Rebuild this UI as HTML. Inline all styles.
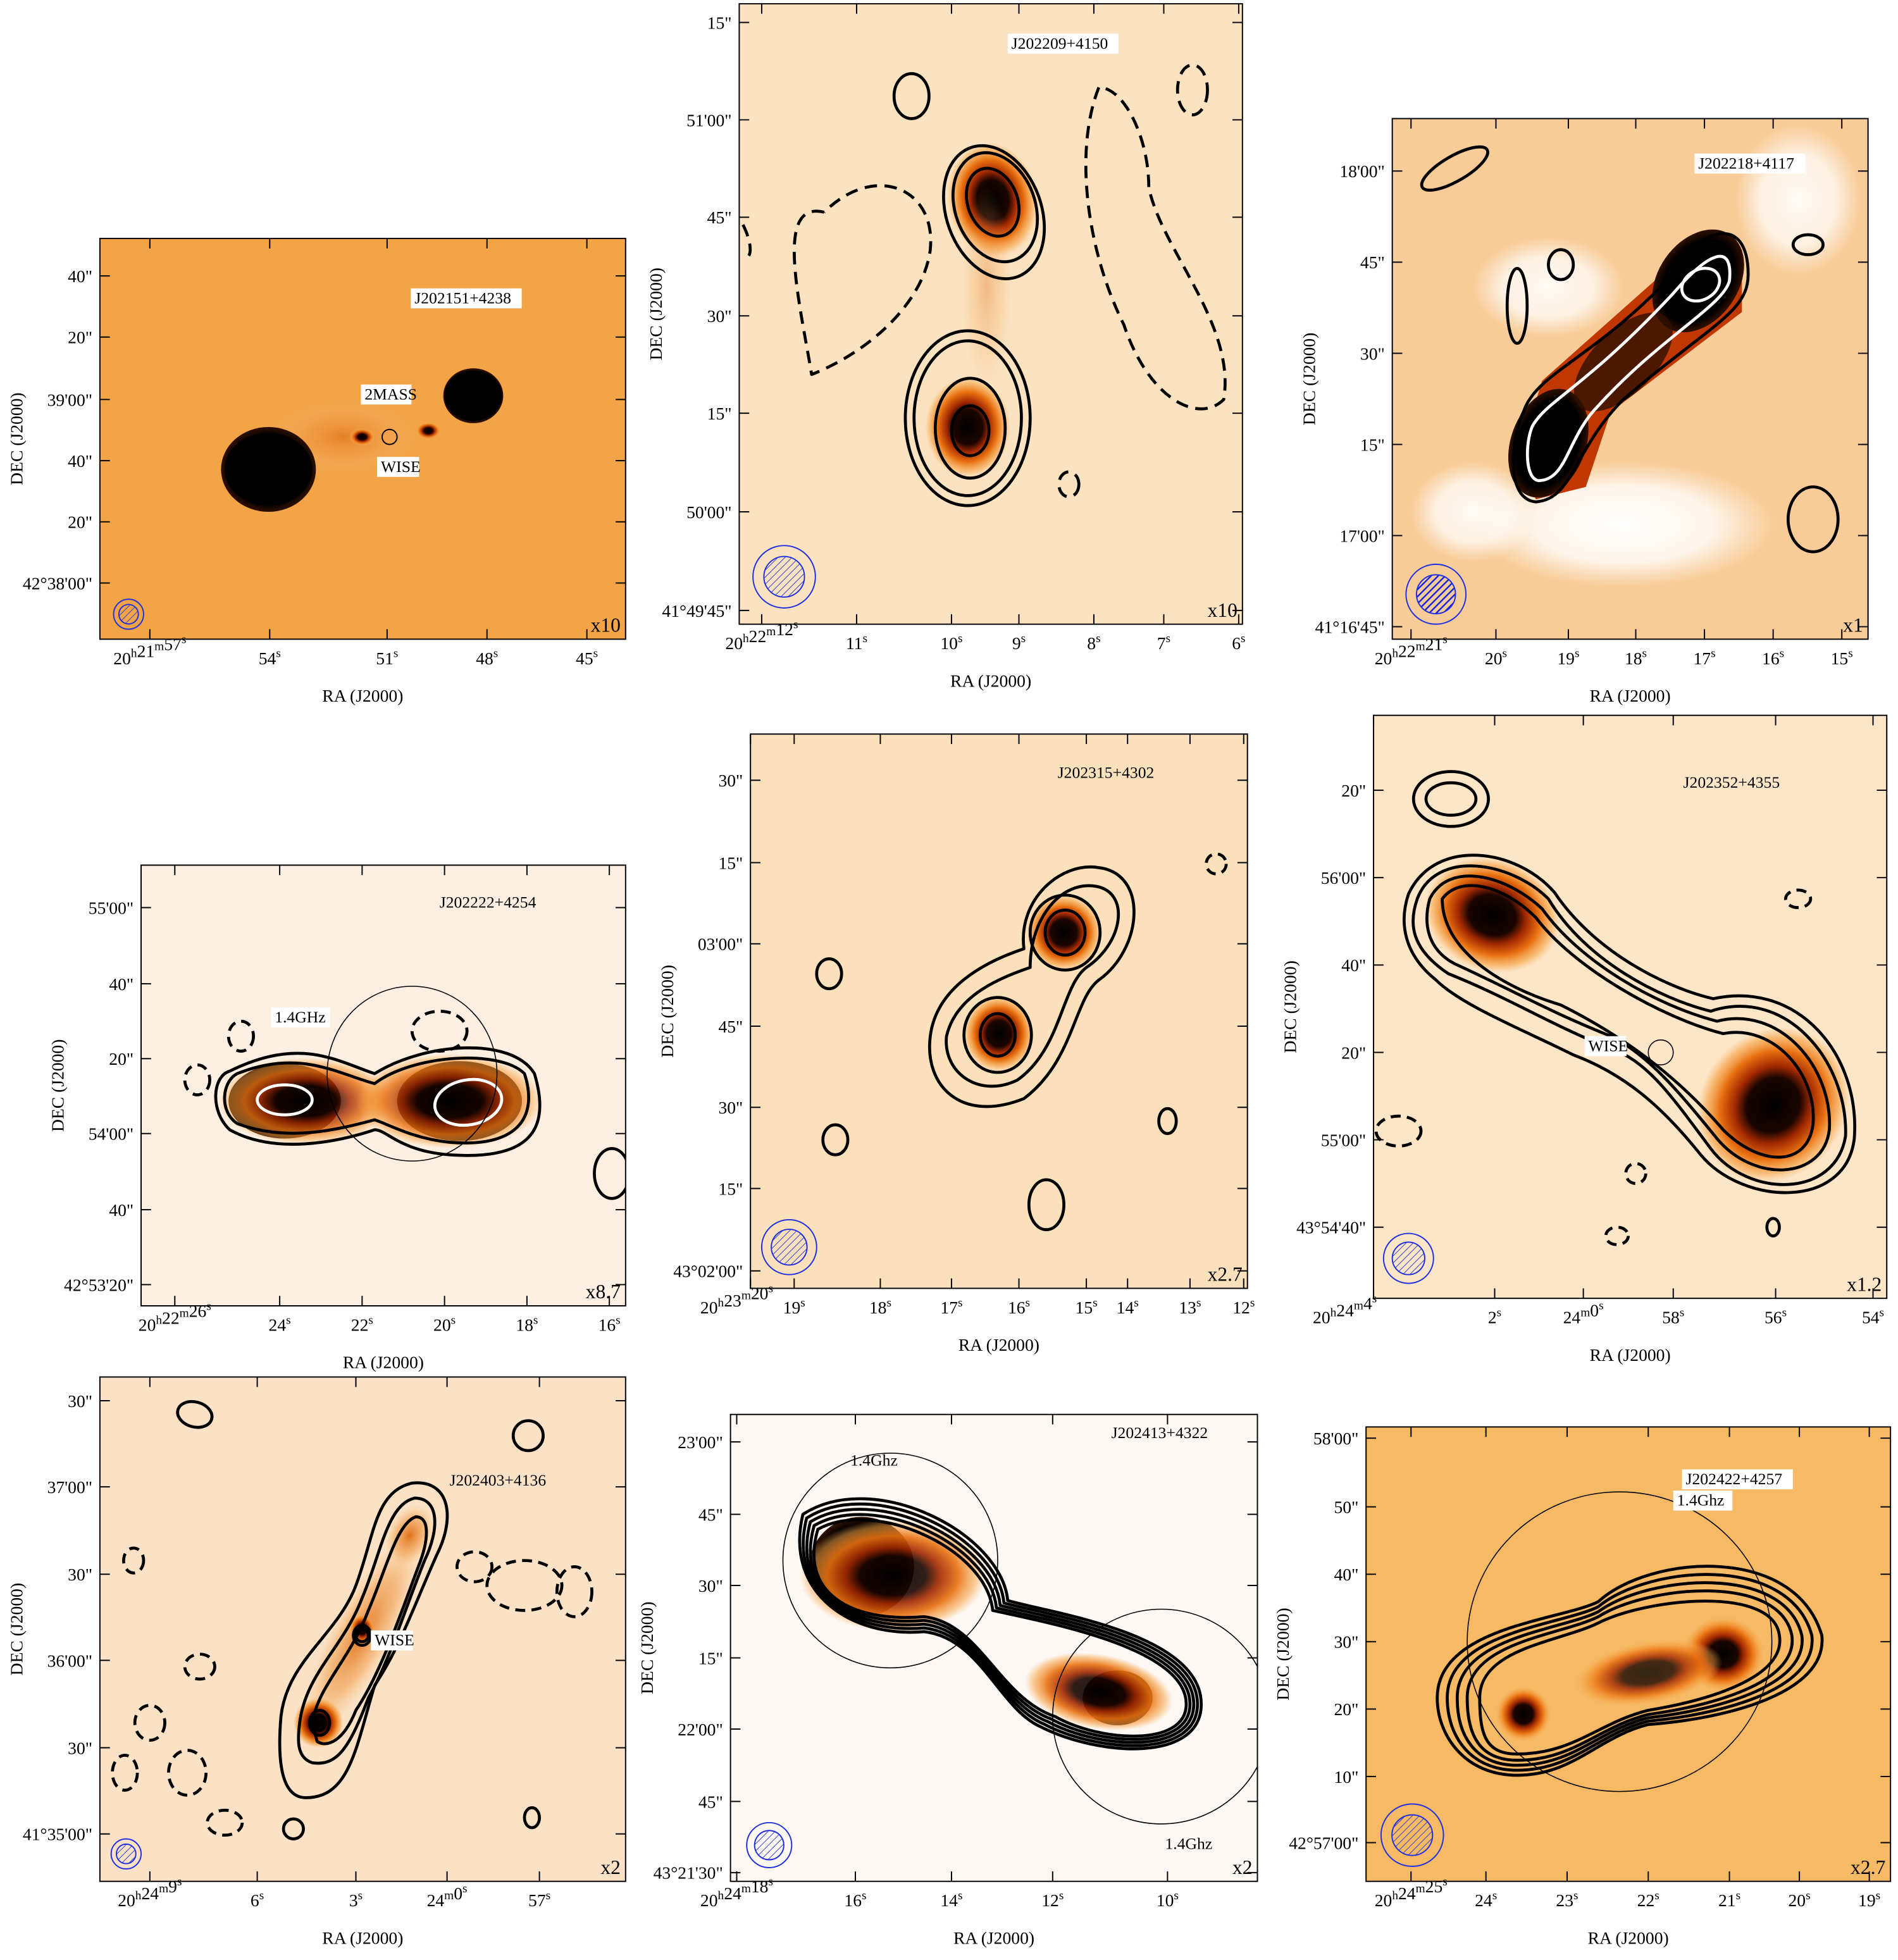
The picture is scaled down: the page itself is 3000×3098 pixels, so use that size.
<!DOCTYPE html>
<html><head><meta charset="utf-8">
<style>
html,body{margin:0;padding:0;background:#fff;}
svg{display:block;}
text{font-family:"Liberation Serif",serif;fill:#000;}
</style></head>
<body>
<svg id="fig" xmlns="http://www.w3.org/2000/svg" width="3000" height="3098" viewBox="0 0 1520 1570" preserveAspectRatio="none">
<defs>
<radialGradient id="src">
<stop offset="0" stop-color="#000"/>
<stop offset="0.35" stop-color="#1a0500"/>
<stop offset="0.5" stop-color="#a02800"/>
<stop offset="0.7" stop-color="#e87010"/>
<stop offset="0.88" stop-color="#f5a040" stop-opacity="0.6"/>
<stop offset="1" stop-color="#f8b060" stop-opacity="0"/>
</radialGradient>
<radialGradient id="dsrc">
<stop offset="0" stop-color="#000"/>
<stop offset="0.8" stop-color="#000"/>
<stop offset="1" stop-color="#301000"/>
</radialGradient>
<radialGradient id="soft">
<stop offset="0" stop-color="#e07018"/>
<stop offset="0.6" stop-color="#f0a050" stop-opacity="0.6"/>
<stop offset="1" stop-color="#f8c080" stop-opacity="0"/>
</radialGradient>
<radialGradient id="wht">
<stop offset="0" stop-color="#fff"/>
<stop offset="0.6" stop-color="#fff" stop-opacity="0.8"/>
<stop offset="1" stop-color="#fff" stop-opacity="0"/>
</radialGradient>
<pattern id="hatch" width="4" height="4" patternUnits="userSpaceOnUse" patternTransform="rotate(45)">
<line x1="0" y1="0" x2="0" y2="4" stroke="#3040d0" stroke-width="1"/>
</pattern>
<pattern id="hatchd" width="4" height="4" patternUnits="userSpaceOnUse" patternTransform="rotate(45)">
<line x1="0" y1="0" x2="0" y2="4" stroke="#1020e0" stroke-width="2.4"/>
</pattern>
</defs>
</svg>
<script>
const NS="http://www.w3.org/2000/svg";
const svg=document.getElementById('fig');
function mk(tag,attrs,parent){const e=document.createElementNS(NS,tag);for(const k in attrs)e.setAttribute(k,attrs[k]);(parent||svg).appendChild(e);return e;}
function supText(g,str,x,y,size,anchor){
  const t=mk('text',{x:x,y:y,'font-size':size,'text-anchor':anchor||'middle'},g);
  let buf='';
  for(const ch of str){
    if('hms'.includes(ch)){ if(buf){const s=mk('tspan',{},t);s.textContent=buf;buf='';}
      const s=mk('tspan',{'font-size':size*0.7,dy:-size*0.4},t);s.textContent=ch;
      const r=mk('tspan',{dy:size*0.4,'font-size':size},t);r.textContent='';
    } else buf+=ch;
  }
  if(buf){const s=mk('tspan',{},t);s.textContent=buf;}
  return t;
}

const panelNames=['J202151+4238','J202209+4150','J202218+4117','J202222+4254','J202315+4302','J202352+4355','J202403+4136','J202413+4322','J202422+4257'];
const panelBoxes=[[80,191,421,321],[592,3,403,497],[1115,95,381,417],[113,693,388,353],[601,588,398,444],[1100,573,411,467],[80,1103,421,404],[585,1133,422,374],[1094,1143,420,364]];
const panelBg=['#f2a446','#fbe2c0','#f8cc98','#fdf0e2','#fbe0bc','#fde6c8','#fbe2c6','#fdf8f4','#f6b964'];
const xTickLabels=[
 ['20h21m57s','54s','51s','48s','45s'],
 ['20h22m12s','11s','10s','9s','8s','7s','6s'],
 ['20h22m21s','20s','19s','18s','17s','16s','15s'],
 ['20h22m26s','24s','22s','20s','18s','16s'],
 ['20h23m20s','19s','18s','17s','16s','15s','14s','13s','12s'],
 ['20h24m4s','2s','24m0s','58s','56s','54s'],
 ['20h24m9s','6s','3s','24m0s','57s'],
 ['20h24m18s','16s','14s','12s','10s'],
 ['20h24m25s','24s','23s','22s','21s','20s','19s']];
const xTickPos=[[120,216,310,390,470],[610,686,762,816,876,932,992],[1130,1198,1256,1310,1365,1420,1475],[140,224,290,356,422,488],[590,636,705,762,816,870,903,953,996],[1077,1197,1268,1340,1422,1500],[120,206,285,358,432],[590,685,762,843,935],[1130,1190,1255,1320,1385,1441,1497]];
const yTickLabels=[
 ['40"','20"','39\'00"','40"','20"','42°38\'00"'],
 ['15"','51\'00"','45"','30"','15"','50\'00"','41°49\'45"'],
 ['18\'00"','45"','30"','15"','17\'00"','41°16\'45"'],
 ['55\'00"','40"','20"','54\'00"','40"','42°53\'20"'],
 ['30"','15"','03\'00"','45"','30"','15"','43°02\'00"'],
 ['20"','56\'00"','40"','20"','55\'00"','43°54\'40"'],
 ['30"','37\'00"','30"','36\'00"','30"','41°35\'00"'],
 ['23\'00"','45"','30"','15"','22\'00"','45"','43°21\'30"'],
 ['58\'00"','50"','40"','30"','20"','10"','42°57\'00"']];
const yTickPos=[[221,270,320,369,418,467],[18,96,174,253,331,410,489],[137,210,283,356,429,502],[727,788,848,908,969,1029],[625,691,756,822,887,952,1018],[633,703,773,843,913,983],[1122,1191,1261,1330,1400,1469],[1155,1213,1270,1328,1385,1443,1500],[1152,1207,1261,1315,1369,1423,1476]];
const scaleLabels=['x10','x10','x1','x8.7','x2.7','x1.2','x2','x2','x2.7'];

const layers=[];
panelBoxes.forEach((b,i)=>{
  const [x,y,w,h]=b;
  const g=mk('g',{});
  
  
  const clip=mk('clipPath',{id:'c'+i},svg.querySelector('defs'));
  mk('rect',{x:x,y:y,width:w,height:h},clip);
  mk('rect',{x:x,y:y,width:w,height:h,fill:panelBg[i]},g);
  const img=mk('g',{'clip-path':'url(#c'+i+')'},g);
  layers.push(img);
  const frame=mk('rect',{x:x,y:y,width:w,height:h,fill:'none',stroke:'#000','stroke-width':1},g);
  
  
  xTickLabels[i].forEach((lab,j)=>{
    const tx=xTickPos[i][j];
    const tk=Math.min(Math.max(tx,x),x+w);
    mk('line',{x1:tk,y1:y+h,x2:tk,y2:y+h-8,stroke:'#000','stroke-width':1},g);
    mk('line',{x1:tk,y1:y,x2:tk,y2:y+8,stroke:'#000','stroke-width':1},g);
    const t=supText(g,lab,tx,y+h+20,14,'middle');
    
    
  });
  yTickLabels[i].forEach((lab,j)=>{
    const ty=yTickPos[i][j];
    mk('line',{x1:x,y1:ty,x2:x+8,y2:ty,stroke:'#000','stroke-width':1},g);
    mk('line',{x1:x+w,y1:ty,x2:x+w-8,y2:ty,stroke:'#000','stroke-width':1},g);
    const t=mk('text',{x:x-6,y:ty+5,'font-size':14,'text-anchor':'end'},g);
    t.textContent=lab;
    
    
  });
  const xt=mk('text',{x:x+w/2,y:y+h+50,'font-size':14,'text-anchor':'middle'},g);
  xt.textContent='RA (J2000)';
  
  
  const cy=y+h/2;
  const yt=mk('text',{x:x-62,y:cy,'font-size':14,'text-anchor':'middle',transform:'rotate(-90 '+(x-62)+' '+cy+')'},g);
  yt.textContent='DEC (J2000)';
  
  
  layers[i].frameG=g;
});

function blob(i,cx,cy,rx,ry,rot,fill,op){return mk('ellipse',{cx:cx,cy:cy,rx:rx,ry:ry,transform:'rotate('+(rot||0)+' '+cx+' '+cy+')',fill:fill||'url(#src)',opacity:op==null?1:op},layers[i]);}
function cont(i,cx,cy,rx,ry,rot,opts){opts=opts||{};return mk('ellipse',{cx:cx,cy:cy,rx:rx,ry:ry,transform:'rotate('+(rot||0)+' '+cx+' '+cy+')',fill:'none',stroke:opts.c||'#000','stroke-width':opts.w||2.4,'stroke-dasharray':opts.d||'none'},layers[i]);}
function path(i,d,opts){opts=opts||{};return mk('path',{d:d,fill:'none',stroke:opts.c||'#000','stroke-width':opts.w||2.4,'stroke-dasharray':opts.d||'none','stroke-linejoin':'round'},layers[i]);}
function label(i,txt,x,y,box){const g=layers[i].frameG;
  if(box!==false){const wdt=txt.length*6.9+6;mk('rect',{x:x-3,y:y-12,width:wdt,height:16,fill:'#fff'},g);}
  const t=mk('text',{x:x,y:y,'font-size':13},g);t.textContent=txt;
  
  
  return t;}
function beam(i,cx,cy,r,dense){cont(i,cx,cy,r,r,0,{c:'#2030e0',w:1});mk('circle',{cx:cx,cy:cy,r:r*0.65,fill:dense?'url(#hatchd)':'url(#hatch)',stroke:'#2030e0','stroke-width':1},layers[i]);}
function scaleTxt(i){const [x,y,w,h]=panelBoxes[i];const t=mk('text',{x:x+w-4,y:y+h-6,'font-size':16,'text-anchor':'end','font-family':'Liberation Sans'},layers[i].frameG);t.textContent=scaleLabels[i];
  
  }

// Panel 1
blob(0,275,350,60,30,0,'url(#soft)',0.7);
blob(0,215,376,38,34,0,'url(#dsrc)');
cont(0,215,376,32,26,0);cont(0,215,376,34,28,0);
blob(0,379,317,24,22,0,'url(#dsrc)');
cont(0,379,317,20,17,0);cont(0,379,317,22,19,0);
blob(0,343,345,10,7,0);blob(0,290,350,10,7,0);
cont(0,312,350,6,6,0,{w:1});
label(0,'J202151+4238',332,243);label(0,'2MASS',292,320);label(0,'WISE',305,378);
beam(0,103,492,12);

// Panel 2
blob(1,795,160,36,46,-10);blob(1,775,342,34,40,0);
blob(1,790,230,20,80,0,'url(#soft)',0.35);
cont(1,796,170,38,55,-20);cont(1,797,166,32,45,-20);cont(1,795,162,20,28,-20);
cont(1,775,335,50,70,0);cont(1,775,335,43,62,0);cont(1,777,343,28,40,0);cont(1,777,345,15,20,0);
path(1,'M660 170 C620 160 640 240 650 300 C700 280 740 240 745 200 C750 150 700 130 660 170',{d:'10 6'});
path(1,'M880 70 C860 120 870 200 900 260 C920 320 960 340 980 320 C990 260 930 200 920 150 C920 110 900 70 880 70',{d:'10 6'});
cont(1,730,77,14,18,0);cont(1,955,72,12,20,0,{d:'10 6'});cont(1,856,388,8,10,0,{d:'10 6'});
path(1,'M595 180 C605 200 600 210 595 205',{d:'10 6'});
label(1,'J202209+4150',810,39);beam(1,628,462,25);
// Panel 3
blob(2,1240,230,60,40,0,'url(#wht)',0.9);blob(2,1440,160,50,60,0,'url(#wht)',0.9);
blob(2,1300,420,120,50,0,'url(#wht)',1);blob(2,1180,410,50,40,0,'url(#wht)',0.9);
mk('path',{d:'M1235 305 L1370 185 L1395 200 L1395 250 L1290 330 L1270 390 L1230 400 L1215 370 Z',fill:'#c03800'},layers[2]);
blob(2,1240,355,30,45,20,'url(#dsrc)');blob(2,1360,225,32,45,35,'url(#dsrc)');
blob(2,1300,290,25,50,45,'#301000',0.8);
path(2,'M1220 330 C1230 300 1270 290 1330 230 C1360 180 1400 170 1400 220 C1400 250 1370 260 1300 320 C1260 360 1260 400 1230 402 C1205 400 1210 350 1220 330 Z');
path(2,'M1228 340 C1240 320 1270 310 1340 235 C1370 200 1388 195 1385 225 C1380 245 1330 270 1280 325 C1255 350 1255 385 1232 385 C1220 383 1222 350 1228 340 Z',{c:'#fff'});
cont(2,1362,228,16,12,-30,{c:'#fff'});
cont(2,1165,135,30,10,-30);cont(2,1448,196,12,8,0);cont(2,1250,212,10,12,0);cont(2,1452,416,20,26,0);cont(2,1215,245,8,30,0);
label(2,'J202218+4117',1360,135);beam(2,1150,476,24,true);
// Panel 4
blob(3,228,882,45,30,0,'url(#dsrc)');blob(3,368,882,50,32,0,'url(#dsrc)');
blob(3,245,882,70,35,0,'url(#src)',0.8);blob(3,360,882,75,38,0,'url(#src)',0.8);
path(3,'M190 860 C240 840 270 860 300 868 C330 845 400 840 420 860 C430 890 420 920 360 915 C330 912 310 900 300 897 C270 905 230 915 190 900 C175 890 178 866 190 860 Z');
path(3,'M184 858 C240 830 270 850 300 860 C340 835 410 830 428 860 C440 900 430 930 360 925 C320 922 310 905 300 905 C270 915 220 925 184 905 C168 890 170 862 184 858 Z');
cont(3,228,881,22,12,0,{c:'#fff'});cont(3,375,883,27,18,-10,{c:'#fff'});
cont(3,330,860,68,70,0,{w:0.8});
cont(3,352,826,22,16,0,{d:'8 5'});cont(3,193,830,10,12,0,{d:'8 5'});cont(3,158,865,10,12,0,{d:'8 5'});cont(3,490,940,14,20,0);
label(3,'J202222+4254',352,727,false);label(3,'1.4GHz',220,819);scaleTxt(3);
// Panel 5
blob(4,852,747,30,30,0);blob(4,800,828,28,30,0);
path(4,'M745 830 C750 790 790 770 820 760 C815 720 850 690 880 695 C920 700 915 760 880 785 C860 800 860 850 820 880 C770 900 740 870 745 830 Z');
path(4,'M758 830 C765 800 795 785 825 775 C825 735 850 705 878 710 C905 715 900 755 870 775 C850 790 850 840 815 865 C785 880 755 860 758 830 Z');
cont(4,853,747,28,30,0);cont(4,799,829,27,30,0);cont(4,853,747,16,18,0);cont(4,799,829,14,17,0);
cont(4,669,913,10,12,0);cont(4,838,965,14,20,0);cont(4,935,898,7,10,0);cont(4,664,780,10,12,0);cont(4,974,692,8,8,0,{d:'8 5'});
label(4,'J202315+4302',847,623,false);beam(4,632,999,22);scaleTxt(4);
// Panel 6
blob(5,1195,733,55,45,20);blob(5,1420,885,58,65,40);
path(5,'M1135 720 C1150 680 1210 690 1240 720 C1270 770 1330 800 1370 810 C1430 790 1480 850 1478 910 C1470 960 1400 960 1370 920 C1340 880 1320 850 1290 840 C1240 820 1210 800 1160 780 C1130 760 1128 740 1135 720 Z');
path(5,'M1145 720 C1160 690 1205 700 1235 728 C1265 770 1325 805 1375 818 C1425 805 1468 855 1465 905 C1460 945 1405 948 1375 912 C1345 875 1320 845 1290 830 C1240 810 1215 795 1165 772 C1142 760 1140 738 1145 720 Z');
path(5,'M1155 720 C1170 700 1205 710 1230 735 C1260 775 1330 815 1380 828 C1420 820 1455 860 1452 900 C1448 935 1410 935 1380 905 C1350 870 1310 835 1250 805 C1200 790 1155 760 1155 720 Z');
path(5,'M1128 716 C1150 670 1215 680 1245 715 C1275 760 1330 790 1372 800 C1440 785 1490 845 1485 912 C1478 970 1395 965 1362 925 C1330 885 1300 860 1260 845 C1220 825 1170 805 1150 785 C1125 765 1120 740 1128 716 Z');
cont(5,1162,640,30,22,0);cont(5,1162,640,20,13,0);
cont(5,1330,843,10,10,0,{w:0.8});
cont(5,1120,906,18,12,0,{d:'8 5'});cont(5,1440,720,10,7,0,{d:'8 5'});cont(5,1310,940,8,8,0,{d:'8 5'});cont(5,1295,990,9,7,0,{d:'8 5'});cont(5,1420,983,5,7,0);
label(5,'J202352+4355',1348,631,false);label(5,'WISE',1272,842);beam(5,1128,1008,20);scaleTxt(5);
// Panel 7
blob(6,290,1310,25,90,28,'url(#soft)',0.9);blob(6,255,1380,20,20,0);blob(6,328,1230,18,26,25,'url(#soft)');blob(6,290,1305,10,12,0);
path(6,'M225 1375 C230 1330 270 1310 285 1270 C300 1230 300 1195 330 1188 C360 1185 365 1215 350 1245 C330 1290 320 1320 300 1350 C285 1400 280 1440 245 1440 C225 1440 222 1410 225 1375 Z');
path(6,'M240 1380 C245 1340 275 1320 290 1280 C305 1245 310 1205 332 1200 C352 1200 352 1225 340 1250 C322 1295 312 1330 295 1360 C280 1400 270 1415 250 1412 C238 1408 238 1395 240 1380 Z');
path(6,'M250 1380 C255 1350 280 1330 295 1290 C310 1255 318 1220 333 1215 C345 1215 343 1235 335 1255 C320 1295 305 1340 285 1370 C275 1395 262 1400 254 1395 Z');
cont(6,256,1380,8,10,0);cont(6,256,1380,4,6,0);cont(6,290,1310,7,8,0);cont(6,290,1310,5,5,0);
cont(6,156,1133,14,10,15);cont(6,423,1150,12,12,0);cont(6,107,1250,8,10,0,{d:'8 5'});
cont(6,160,1335,12,10,0,{d:'8 5'});cont(6,120,1380,12,14,0,{d:'8 5'});cont(6,150,1420,15,18,0,{d:'8 5'});cont(6,100,1420,10,14,0,{d:'8 5'});cont(6,180,1460,14,10,0,{d:'8 5'});
cont(6,420,1270,30,20,0,{d:'8 5'});cont(6,380,1255,14,12,0,{d:'8 5'});cont(6,460,1275,14,20,0,{d:'8 5'});cont(6,235,1465,8,8,0);cont(6,426,1456,6,8,0);
label(6,'J202403+4136',360,1190,false);label(6,'WISE',300,1318);beam(6,101,1485,12);scaleTxt(6);
// Panel 8
blob(7,690,1255,42,40,0,'url(#dsrc)');blob(7,715,1262,75,45,0,'url(#src)',0.9);
blob(7,895,1360,28,22,0,'url(#dsrc)');blob(7,880,1355,60,30,10,'url(#src)',0.9);
[0,6,12,18,24].forEach((d,k)=>{path(7,'M'+(655-d/2)+' '+(1225-d/2)+' C'+(700)+' '+(1200-d)+' '+(790+d/2)+' '+(1240-d/2)+' '+(795+d/2)+' '+(1290-d/3)+' C'+(840)+' '+(1300-d/3)+' '+(950+d/2)+' '+(1320-d/2)+' '+(950+d/2)+' '+(1365)+' C'+(950+d/2)+' '+(1400+d/2)+' '+(880)+' '+(1395+d/2)+' '+(845-d/2)+' '+(1375+d/3)+' C'+(800)+' '+(1360+d/3)+' '+(785)+' '+(1300+d/2)+' '+(740)+' '+(1295+d/2)+' C'+(680)+' '+(1300+d/2)+' '+(640-d/2)+' '+(1275)+' '+(655-d/2)+' '+(1225-d/2)+' Z');});
cont(7,713,1250,86,86,0,{w:0.8});cont(7,930,1375,87,86,0,{w:0.8});
label(7,'J202413+4322',890,1152,false);label(7,'1.4Ghz',681,1174,false);label(7,'1.4Ghz',933,1481,false);beam(7,616,1478,18);scaleTxt(7);
// Panel 9
blob(8,1220,1373,22,22,0);blob(8,1380,1325,33,30,0);blob(8,1320,1340,60,25,-10,'url(#src)',0.8);
[0,10,18,26,34].forEach((d,k)=>{path(8,'M'+(1185-d)+' '+(1360)+' C'+(1185-d)+' '+(1320-d/2)+' '+(1250)+' '+(1315-d/2)+' '+(1280)+' '+(1300-d/2)+' C'+(1320)+' '+(1280-d)+' '+(1420+d/2)+' '+(1270-d)+' '+(1425+d)+' '+(1310)+' C'+(1430+d)+' '+(1340+d/2)+' '+(1380)+' '+(1360+d/2)+' '+(1320)+' '+(1370+d/3)+' C'+(1280)+' '+(1380+d/3)+' '+(1260)+' '+(1405+d/2)+' '+(1215)+' '+(1405+d/2)+' C'+(1190-d/2)+' '+(1405+d/2)+' '+(1185-d)+' '+(1390)+' '+(1185-d)+' '+(1360)+' Z');});
cont(8,1297,1315,122,120,0,{w:0.8});
label(8,'J202422+4257',1350,1189,true);label(8,'1.4Ghz',1343,1206,true);
beam(8,1131,1470,25);scaleTxt(8);
scaleTxt(0);scaleTxt(1);scaleTxt(2);
</script>
</body></html>
